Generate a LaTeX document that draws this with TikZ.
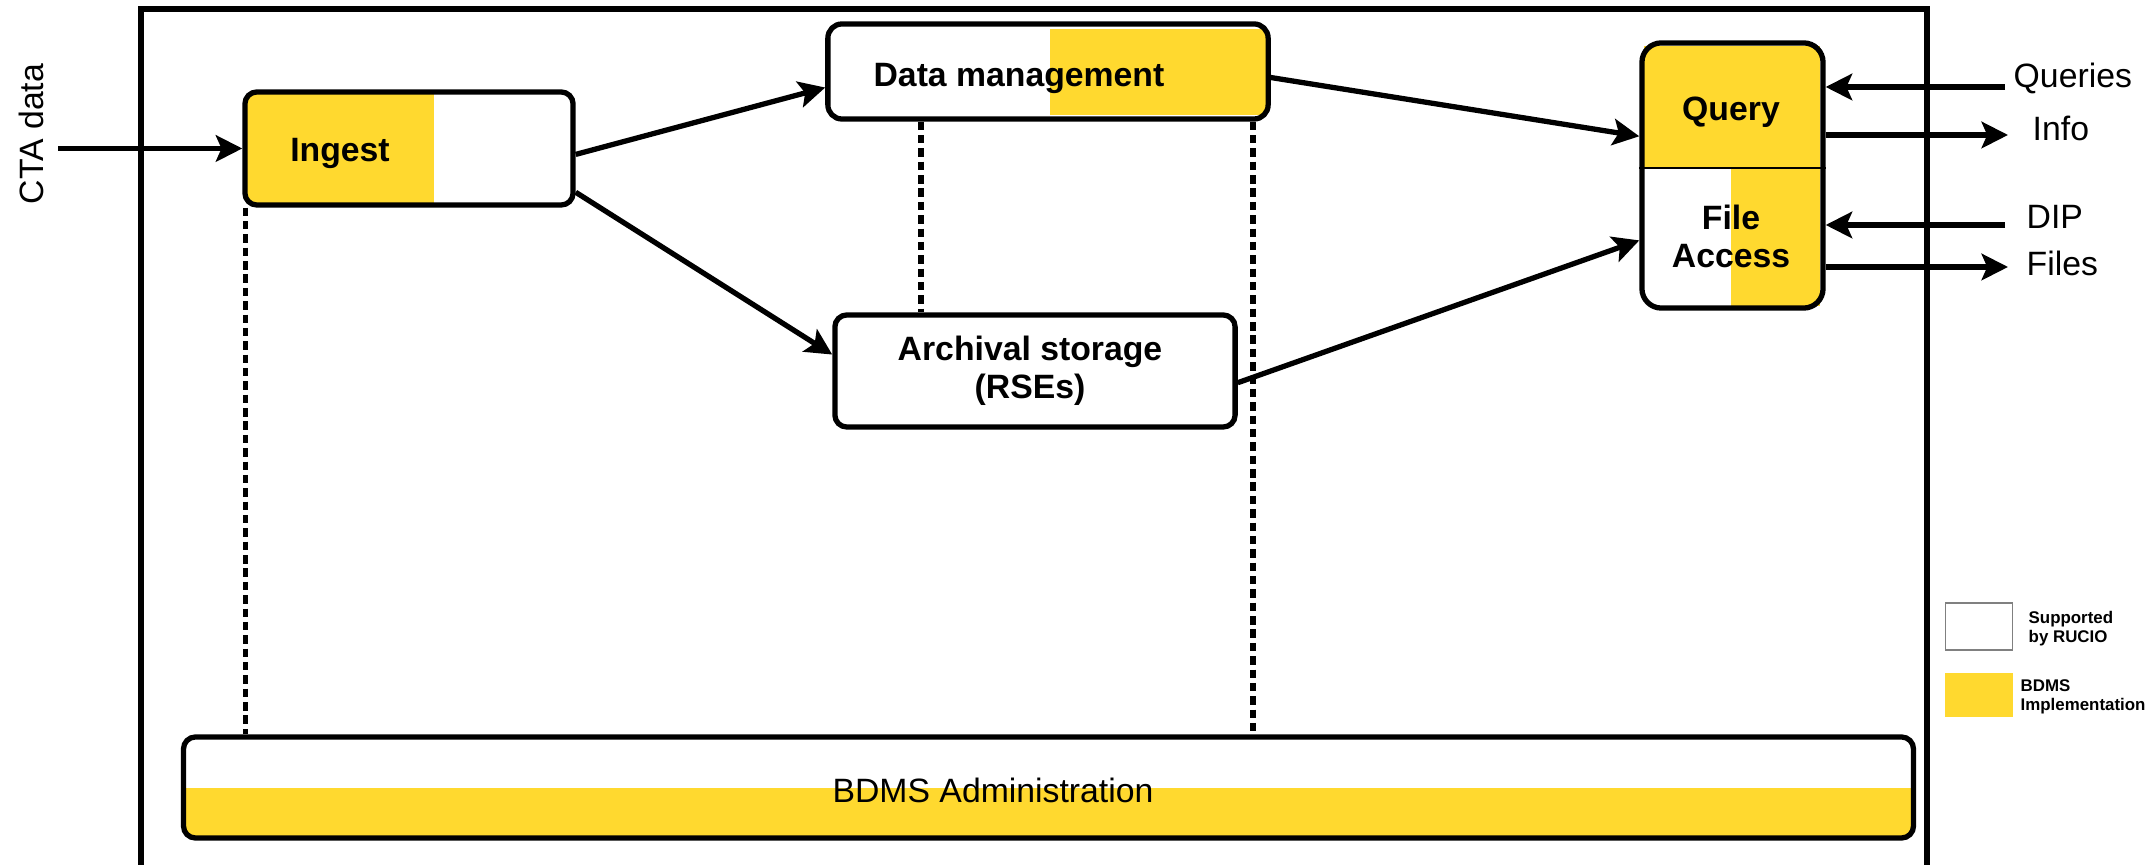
\documentclass[tikz,border=0pt]{standalone}
\usepackage{fontspec}
\setmainfont{Liberation Sans}
\usetikzlibrary{arrows.meta,calc}
\definecolor{bdmsyellow}{RGB}{255,217,47}

\begin{document}
\begin{tikzpicture}[x=0.01cm,y=-0.01cm,
  box/.style={draw, line width=1.5pt, rounded corners=3.4pt, inner sep=0pt},
  flow/.style={line width=1.5pt, -{Stealth[length=7.5pt,width=7.5pt,inset=1.6pt]}},
  guide/.style={line width=1.5pt, dash pattern=on 2.4pt off 1.4pt},
  lbl/.style={font=\fontsize{9.6}{10.9}\selectfont\bfseries, align=center, inner sep=0pt},
  plain/.style={font=\fontsize{9.6}{11}\selectfont, inner sep=0pt},
  keytext/.style={font=\fontsize{4.8}{5.4}\selectfont\bfseries, align=left, anchor=west, inner sep=0pt}
]
\useasboundingbox (0,0) rectangle (2154,865);
\clip (0,0) rectangle (2154,865);

% system boundary (open at the bottom)
\draw[line width=1.6pt] (141,900) -- (141,9) -- (1927,9) -- (1927,900);

% parts implemented by BDMS
\fill[bdmsyellow] (246,94) rectangle (434,203);
\fill[bdmsyellow] (1050,29) rectangle (1266,115);
\fill[bdmsyellow] (1644,46) rectangle (1820,168);
\fill[bdmsyellow] (1731,168) rectangle (1820,306);
\fill[bdmsyellow] (185,788) rectangle (1911,836);

% functional blocks
\node[box, minimum width=3.28cm, minimum height=1.13cm] (ingest) at (409,148.5) {};
\node[box, minimum width=4.40cm, minimum height=0.95cm, rounded corners=4pt] (dm) at (1048,71.5) {};
\node[box, minimum width=4.00cm, minimum height=1.12cm] (arch) at (1035,371) {};
\node[box, minimum width=1.81cm, minimum height=2.65cm, rounded corners=5.5pt] (acc) at (1732.5,175.5) {};
\node[box, minimum width=17.29cm, minimum height=1.01cm] (admin) at (1048.5,787.5) {};

% split between query and file access
\coordinate (split) at (0,168);
\draw[line width=0.4pt] (acc.west |- split) -- (acc.east |- split);

% block titles
\node[lbl, anchor=base] (ingestlbl) at (340,162) {Ingest};
\node[lbl, anchor=base] (dmlbl) at (1019,87) {Data management};
\node[lbl] (archlbl) at (1030,370.5) {Archival storage\\(RSEs)};
\node[lbl, anchor=base] (querylbl) at (1731,121) {Query};
\node[lbl] (filelbl) at (1731,236.5) {File\\Access};
\node[plain, anchor=base] (adminlbl) at (993,803) {BDMS Administration};

% incoming data
\node[plain, rotate=90] (cta) at (31,134) {CTA data};
\coordinate (ctasrc) at (58,148.5);
\draw[flow] (ctasrc) -- (ingest.west);

% data flow between blocks
\draw[flow] ($(ingest.north east)!0.55!(ingest.south east)$) -- ($(dm.north west)!0.66!(dm.south west)$);
\draw[flow] ($(ingest.north east)!0.87!(ingest.south east)$) -- ($(arch.north west)!0.36!(arch.south west)$);
\draw[flow] ($(dm.north east)!0.56!(dm.south east)$) -- ($(acc.north west)!0.355!(acc.south west)$);
\draw[flow] ($(arch.north east)!0.60!(arch.south east)$) -- ($(acc.north west)!0.74!(acc.south west)$);

% external interfaces
\coordinate (qin) at (2005,87);
\coordinate (infoout) at (2008,135);
\coordinate (dipin) at (2005,225);
\coordinate (filesout) at (2008,267);
\draw[flow] (qin) -- (qin -| acc.east);
\draw[flow] (infoout -| acc.east) -- (infoout);
\draw[flow] (dipin) -- (dipin -| acc.east);
\draw[flow] (filesout -| acc.east) -- (filesout);
\node[plain, anchor=base west] (queries) at (2013,88) {Queries};
\node[plain, anchor=base west] (info) at (2032,141) {Info};
\node[plain, anchor=base west] (dip) at (2026,229) {DIP};
\node[plain, anchor=base west] (files) at (2026,276) {Files};

% links to administration
\coordinate (g1) at ($(ingest.south west)+(3,0)$);
\coordinate (g2) at (921,0);
\coordinate (g3) at (1253,0);
\draw[guide] (g1) -- (g1 |- admin.north);
\draw[guide] (g2 |- dm.south) -- (g2 |- arch.north);
\draw[guide] (g3 |- dm.south) -- (g3 |- admin.north);

% legend
\node[draw=gray, line width=0.5pt, minimum width=0.67cm, minimum height=0.47cm, inner sep=0pt] (keyrucio) at (1979,626.5) {};
\node[fill=bdmsyellow, minimum width=0.68cm, minimum height=0.44cm, inner sep=0pt] (keybdms) at (1979,695) {};
\node[keytext] (keyrucioText) at (2028,629) {Supported\\by RUCIO};
\node[keytext] (keybdmsText) at (2020,697) {BDMS\\Implementation};
\end{tikzpicture}
\end{document}
